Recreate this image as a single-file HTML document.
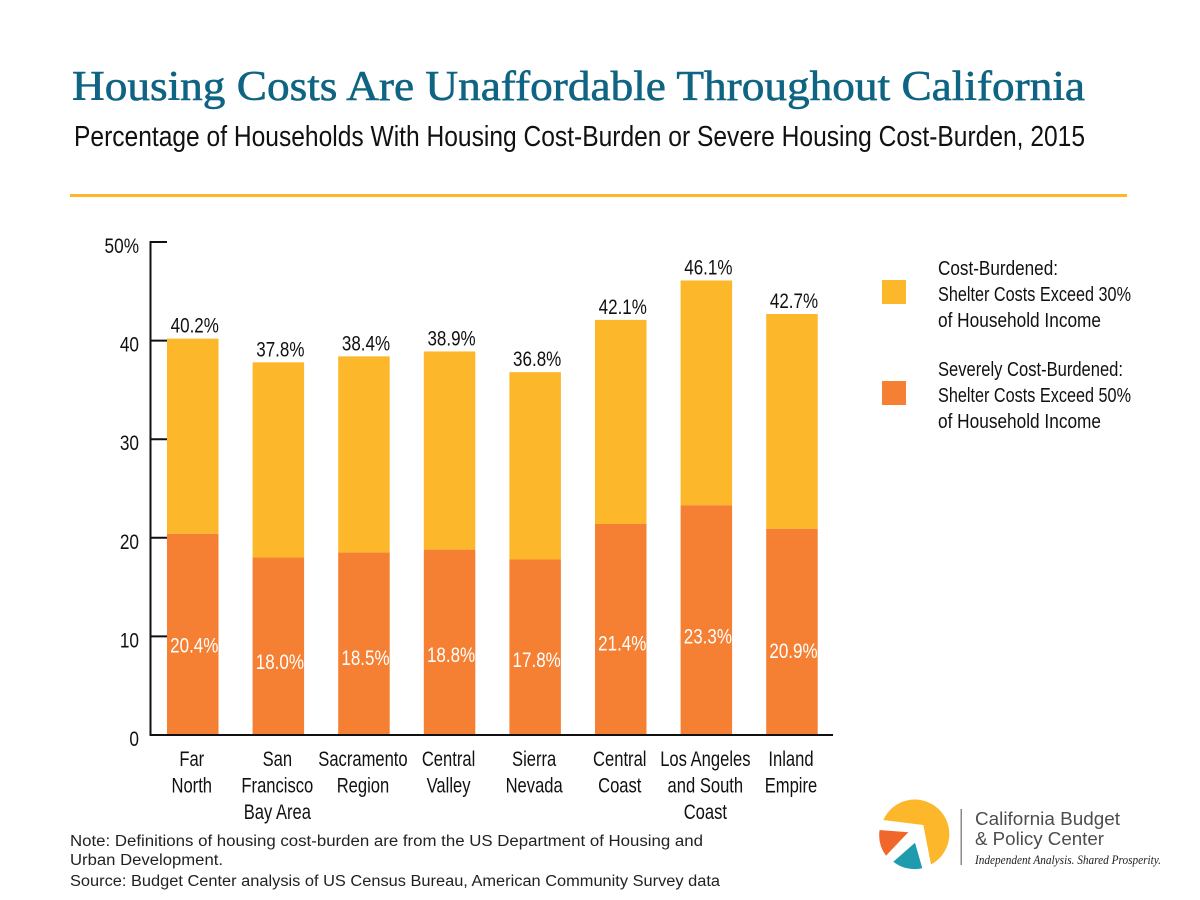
<!DOCTYPE html>
<html lang="en">
<head>
<meta charset="utf-8">
<title>Housing Costs Are Unaffordable Throughout California</title>
<style>
html,body{margin:0;padding:0;background:#fff;width:1200px;height:900px;overflow:hidden}
svg{display:block}
text{font-family:"Liberation Sans",sans-serif;fill:#111}
.serif{font-family:"Liberation Serif",serif}
</style>
</head>
<body>
<svg id="chart" xmlns="http://www.w3.org/2000/svg" width="1200" height="900" viewBox="0 0 1200 900">
  <text class="serif" x="72" y="100" font-size="42" style="fill:#0e6482;stroke:#0e6482;stroke-width:0.6" textLength="1013" lengthAdjust="spacingAndGlyphs">Housing Costs Are Unaffordable Throughout California</text>
  <text x="74" y="146" font-size="29" textLength="1011" lengthAdjust="spacingAndGlyphs">Percentage of Households With Housing Cost-Burden or Severe Housing Cost-Burden, 2015</text>
  <rect x="70" y="194" width="1057" height="3" fill="#fdb72b"/>

  <g id="plot"></g>

  <g>
    <g>
      <rect x="882" y="280" width="24" height="24" fill="#fdb72b"/>
      <text x="938" y="275" font-size="20" textLength="120" lengthAdjust="spacingAndGlyphs">Cost-Burdened:</text>
      <text x="938" y="301" font-size="20" textLength="193" lengthAdjust="spacingAndGlyphs">Shelter Costs Exceed 30%</text>
      <text x="938" y="327" font-size="20" textLength="163" lengthAdjust="spacingAndGlyphs">of Household Income</text>
    </g>
    <g>
      <rect x="882" y="381" width="24" height="24" fill="#f58033"/>
      <text x="938" y="376" font-size="20" textLength="185" lengthAdjust="spacingAndGlyphs">Severely Cost-Burdened:</text>
      <text x="938" y="402" font-size="20" textLength="193" lengthAdjust="spacingAndGlyphs">Shelter Costs Exceed 50%</text>
      <text x="938" y="428" font-size="20" textLength="163" lengthAdjust="spacingAndGlyphs">of Household Income</text>
    </g>
  </g>

  <g>
    <text x="70" y="846" font-size="15.5" style="fill:#222" textLength="633" lengthAdjust="spacingAndGlyphs">Note: Definitions of housing cost-burden are from the US Department of Housing and</text>
    <text x="70" y="865" font-size="15.5" style="fill:#222" textLength="153" lengthAdjust="spacingAndGlyphs">Urban Development.</text>
    <text x="70" y="886" font-size="15.5" style="fill:#222" textLength="650" lengthAdjust="spacingAndGlyphs">Source: Budget Center analysis of US Census Bureau, American Community Survey data</text>
  </g>

  <g>
    <path fill="#fdb72b" d="M883.3 820 A34.5 34.5 0 1 1 931 864.5 L923.3 825 Z"/>
    <path fill="#f0672b" d="M879.6 830 L908.3 832.3 L886 855.7 A34.5 34.5 0 0 1 879.6 830 Z"/>
    <path fill="#1f9bae" d="M915 842.7 L922.3 868.3 A34.5 34.5 0 0 1 893.3 861.7 Z"/>
    <rect x="960.5" y="809" width="1.5" height="56" fill="#8a8a8a"/>
    <text x="975" y="825" font-size="18" style="fill:#4d4d4f" textLength="145" lengthAdjust="spacingAndGlyphs">California Budget</text>
    <text x="975" y="845" font-size="18" style="fill:#4d4d4f" textLength="129" lengthAdjust="spacingAndGlyphs">&amp; Policy Center</text>
    <text class="serif" x="975" y="864" font-size="12.5" font-style="italic" style="fill:#222" textLength="186" lengthAdjust="spacingAndGlyphs">Independent Analysis. Shared Prosperity.</text>
  </g>
</svg>

<script>
const categories = [
  ["Far", "North"],
  ["San", "Francisco", "Bay Area"],
  ["Sacramento", "Region"],
  ["Central", "Valley"],
  ["Sierra", "Nevada"],
  ["Central", "Coast"],
  ["Los Angeles", "and South", "Coast"],
  ["Inland", "Empire"]
];
const severeValues = [20.4, 18.0, 18.5, 18.8, 17.8, 21.4, 23.3, 20.9];
const totalValues = [40.2, 37.8, 38.4, 38.9, 36.8, 42.1, 46.1, 42.7];
const innerLabelLevels = [9.1, 7.4, 7.8, 8.1, 7.6, 9.3, 10.0, 8.5];
const tickValues = [0, 10, 20, 30, 40, 50];
const tickLabels = ["0", "10", "20", "30", "40", "50%"];

const NS = "http://www.w3.org/2000/svg";
const plot = document.getElementById("plot");
const yBase = 735, yPerUnit = 9.86;
const firstBarX = 167, barStep = 85.6, barWidth = 51.5;
function yScale(v) { return yBase - v * yPerUnit; }
function xScale(i) { return firstBarX + i * barStep; }
function make(tag, attrs, text) {
  const el = document.createElementNS(NS, tag);
  for (const k in attrs) el.setAttribute(k, attrs[k]);
  if (text !== undefined) el.textContent = text;
  plot.appendChild(el);
  return el;
}
function narrowText(x, y, size, sx, anchor, fill, text) {
  return make("text", {
    transform: "translate(" + x + " " + y + ") scale(" + sx + " 1)",
    "font-size": size, "text-anchor": anchor, style: "fill:" + fill
  }, text);
}

categories.forEach(function (lines, i) {
  const x = xScale(i);
  const cx = x + barWidth / 2;
  const top = yScale(totalValues[i]);
  const mid = yScale(severeValues[i]);

  const upper = make("rect", { x: x, y: top, width: barWidth, height: mid - top, fill: "#fdb72b" });
  
  

  const lower = make("rect", { x: x, y: mid, width: barWidth, height: yBase - mid, fill: "#f58033" });
  
  

  const totalLabel = narrowText(cx + 2, top - 6, 21, 0.81, "middle", "#111", totalValues[i].toFixed(1) + "%");
  
  

  const innerLabel = narrowText(cx + 1.5, yScale(innerLabelLevels[i]) + 7, 21, 0.81, "middle", "#ffffff", severeValues[i].toFixed(1) + "%");
  
  

  lines.forEach(function (line, j) {
    const label = narrowText(cx - 1, 766 + j * 26.5, 21, 0.79, "middle", "#111", line);
    
    
  });
});

const yAxis = make("line", { x1: 150.5, x2: 150.5, y1: yScale(50) - 1, y2: yBase + 1, stroke: "#111", "stroke-width": 2 });



const xAxis = make("line", { x1: 150, x2: 833, y1: yBase, y2: yBase, stroke: "#111", "stroke-width": 2 });



tickValues.forEach(function (v, i) {
  if (v !== 0) {
    const tick = make("line", { x1: 150, x2: 167, y1: yScale(v), y2: yScale(v), stroke: "#111", "stroke-width": 2 });
    
    
  }
  const label = narrowText(139, yScale(v) + 11, 21, 0.82, "end", "#111", tickLabels[i]);
  
  
});
</script>
</body>
</html>
